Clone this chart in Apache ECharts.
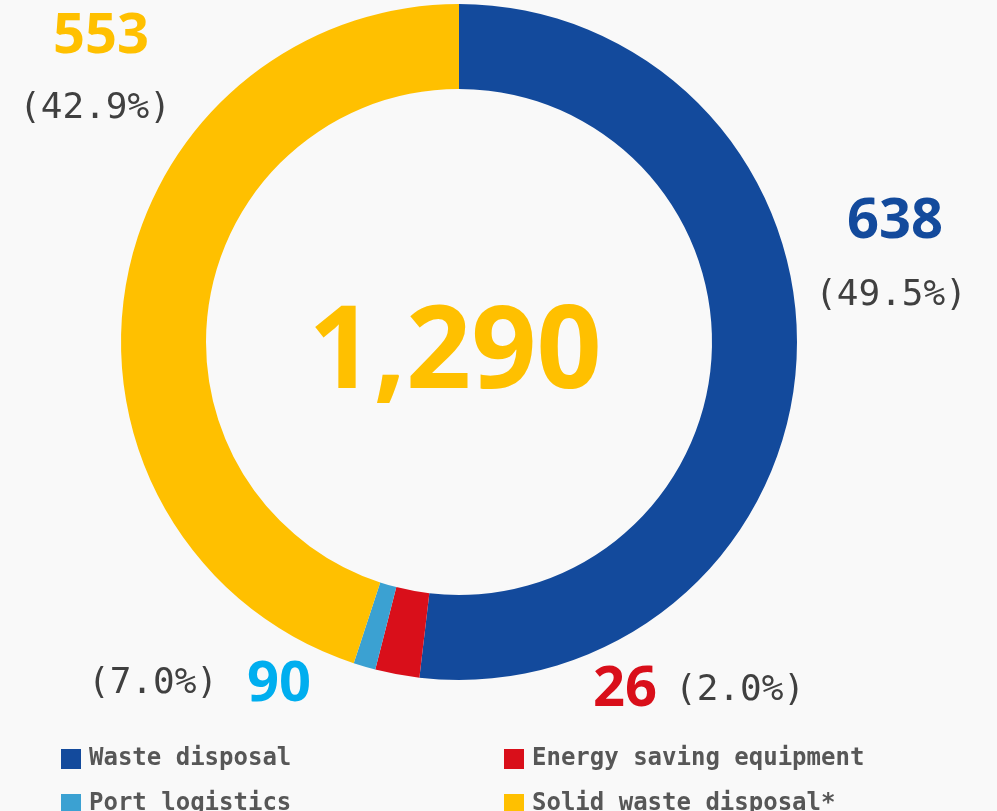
<!DOCTYPE html>
<html>
<head>
<meta charset="utf-8">
<title>donut</title>
<script src="https://cdn.jsdelivr.net/npm/echarts@6/dist/echarts.min.js"></script>
<style>
  html, body { margin: 0; padding: 0; background: #f9f9f9; }
  #main { width: 997px; height: 811px; }
</style>
</head>
<body>
<div id="main"></div>
<script>
// categories and values
var categories = ['Waste disposal', 'Energy saving equipment', 'Port logistics', 'Solid waste disposal*'];
// slice sizes as drawn in the picture
var sliceValues = [638, 26, 13, 553];
// numbers printed next to the ring
var labelValues = [638, 26, 90, 553];
var labelPercents = ['49.5%', '2.0%', '7.0%', '42.9%'];
var totalLabel = '1,290';

var colors = ['#134a9c', '#d90f1a', '#3ba1d2', '#ffc000'];
var numColors = ['#134a9c', '#d90f1a', '#00aeef', '#ffc000'];

// where each number / percent sits: [numX, numY, pctX, pctY]
var labelPos = [
  [895, 222, 891, 296],
  [625, 690, 740, 691],
  [279, 685, 153, 684],
  [101, 37, 95, 109]
];

var chart = echarts.init(document.getElementById('main'));

var graphics = [];
categories.forEach(function (c, i) {
  var p = labelPos[i];
  graphics.push({
    type: 'text', x: p[0], y: p[1],
    style: {
      text: String(labelValues[i]), fill: numColors[i],
      font: 'bold 56px "Open Sans"',
      textAlign: 'center', textVerticalAlign: 'middle', align: 'center', verticalAlign: 'middle'
    }
  });
  graphics.push({
    type: 'text', x: p[2], y: p[3],
    style: {
      text: '(' + labelPercents[i] + ')', fill: '#404040',
      font: '36px "DejaVu Sans Mono"',
      textAlign: 'center', textVerticalAlign: 'middle', align: 'center', verticalAlign: 'middle'
    }
  });
});
graphics.push({
  type: 'text', x: 455, y: 356,
  style: {
    text: totalLabel, fill: '#ffc000',
    font: 'bold 114px "Open Sans"',
    textAlign: 'center', textVerticalAlign: 'middle', align: 'center', verticalAlign: 'middle'
  }
});

chart.setOption({
  backgroundColor: '#f9f9f9',
  animation: false,
  color: colors,
  legend: {
    orient: 'horizontal', left: 61, top: 747, width: 920, padding: 0,
    itemWidth: 20, itemHeight: 20, itemGap: 21, icon: 'rect',
    data: categories,
    textStyle: {
      color: '#575757', fontFamily: 'DejaVu Sans Mono', fontSize: 24, fontWeight: 'bold',
      lineHeight: 20, width: 394, overflow: 'none', padding: [0, 0, 0, 3]
    }
  },
  graphic: graphics,
  series: [{
    type: 'pie',
    center: [459, 342],
    radius: [253, 338],
    startAngle: 90,
    clockwise: true,
    label: { show: false },
    labelLine: { show: false },
    emphasis: { scale: false },
    itemStyle: { borderWidth: 0 },
    data: categories.map(function (c, i) { return { name: c, value: sliceValues[i] }; })
  }]
});
</script>
</body>
</html>
